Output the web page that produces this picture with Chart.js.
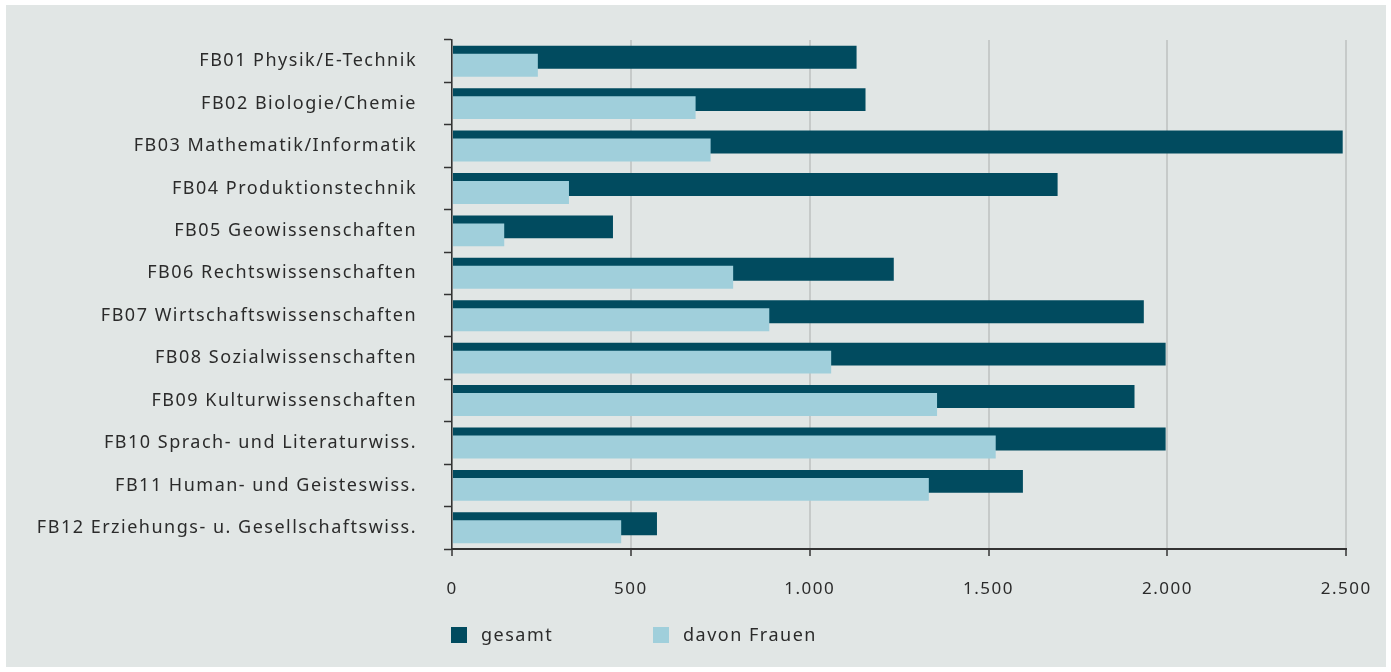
<!DOCTYPE html>
<html>
<head>
<meta charset="utf-8">
<script src="https://cdn.jsdelivr.net/npm/chart.js@4.4.1/dist/chart.umd.min.js"></script>
<style>
  body { margin: 0; background: #fff; font-family: "Noto Sans", sans-serif; }
  #panel { position: absolute; left: 6px; top: 5px; width: 1380px; height: 662px; background: #e1e6e5; }
  #wrap { position: absolute; left: 0; top: 0; width: 1391px; height: 672px; }
  #legend { position: absolute; left: 451px; top: 624px; font-size: 18px; letter-spacing: 1.5px; color: #2b2b2b; }
  .item { position: absolute; top: 0; white-space: nowrap; line-height: 20px; }
  .box { display: inline-block; width: 16px; height: 16px; vertical-align: -2px; margin-right: 14px; }
</style>
</head>
<body>
<div id="panel"></div>
<div id="wrap"><canvas id="chart"></canvas></div>
<div id="legend"></div>
<script>
// Studierende je Fachbereich
const faculties = [
  "FB01 Physik/E-Technik",
  "FB02 Biologie/Chemie",
  "FB03 Mathematik/Informatik",
  "FB04 Produktionstechnik",
  "FB05 Geowissenschaften",
  "FB06 Rechtswissenschaften",
  "FB07 Wirtschaftswissenschaften",
  "FB08 Sozialwissenschaften",
  "FB09 Kulturwissenschaften",
  "FB10 Sprach- und Literaturwiss.",
  "FB11 Human- und Geisteswiss.",
  "FB12 Erziehungs- u. Gesellschaftswiss."
];
const gesamt = [1131, 1156, 2490, 1693, 450, 1235, 1934, 1995, 1908, 1995, 1596, 573];
const frauen = [240, 681, 723, 327, 146, 786, 887, 1060, 1356, 1520, 1333, 473];
const seriesNames = ["gesamt", "davon Frauen"];
const seriesColors = ["#014b5f", "#a0cfdb"];

const textColor = "#2b2b2b";
const axisColor = "#333333";

// draw the datasets in index order so the light bar lies on top of the dark one
const drawInOrder = {
  id: "drawInOrder",
  beforeDraw(chart) {
    chart.ctx.letterSpacing = "1.5px"; // the original font is set wide
  },
  beforeDatasetsDraw(chart) {
    chart.getSortedVisibleDatasetMetas().forEach((meta) => meta.controller.draw());
    return false;
  }
};

function formatDe(v) {
  return String(v).replace(/\B(?=(\d{3})+(?!\d))/g, ".");
}

const ctx = document.getElementById("chart").getContext("2d");
const chart = new Chart(ctx, {
  type: "bar",
  data: {
    labels: faculties,
    datasets: [
      { label: seriesNames[0], data: gesamt, backgroundColor: seriesColors[0] },
      { label: seriesNames[1], data: frauen, backgroundColor: seriesColors[1] }
    ]
  },
  options: {
    indexAxis: "y",
    responsive: true,
    maintainAspectRatio: false,
    animation: false,
    categoryPercentage: 0.377,
    barPercentage: 2.875,
    layout: { padding: { top: 40, right: 44, left: 0, bottom: 0 } },
    plugins: {
      legend: { display: false },
      tooltip: { enabled: false }
    },
    scales: {
      x: {
        min: 0,
        max: 2500,
        ticks: {
          stepSize: 500,
          padding: 23,
          color: textColor,
          font: { family: "Noto Sans", size: 17 },
          callback: (v) => formatDe(v)
        },
        grid: { color: "#c6cac9", lineWidth: 2, tickLength: 7, tickColor: axisColor, tickWidth: 1.5 },
        border: { display: true, color: axisColor, width: 2 },
        afterFit: (scale) => { scale.height = 123; }
      },
      y: {
        ticks: {
          padding: 27,
          color: textColor,
          font: { family: "Noto Sans", size: 18 }
        },
        grid: { drawOnChartArea: false, offset: true, tickLength: 8, tickColor: axisColor, tickWidth: 1.5 },
        border: { display: true, color: axisColor, width: 1.5 },
        afterFit: (scale) => { scale.width = 452; }
      }
    }
  },
  plugins: [drawInOrder]
});

// legend below the axis
const legend = document.getElementById("legend");
const legendX = [0, 202];
seriesNames.forEach((name, i) => {
  const item = document.createElement("div");
  item.className = "item";
  item.style.left = legendX[i] + "px";
  item.innerHTML = '<span class="box" style="background:' + seriesColors[i] + '"></span>' + name;
  legend.appendChild(item);
});
</script>
</body>
</html>
